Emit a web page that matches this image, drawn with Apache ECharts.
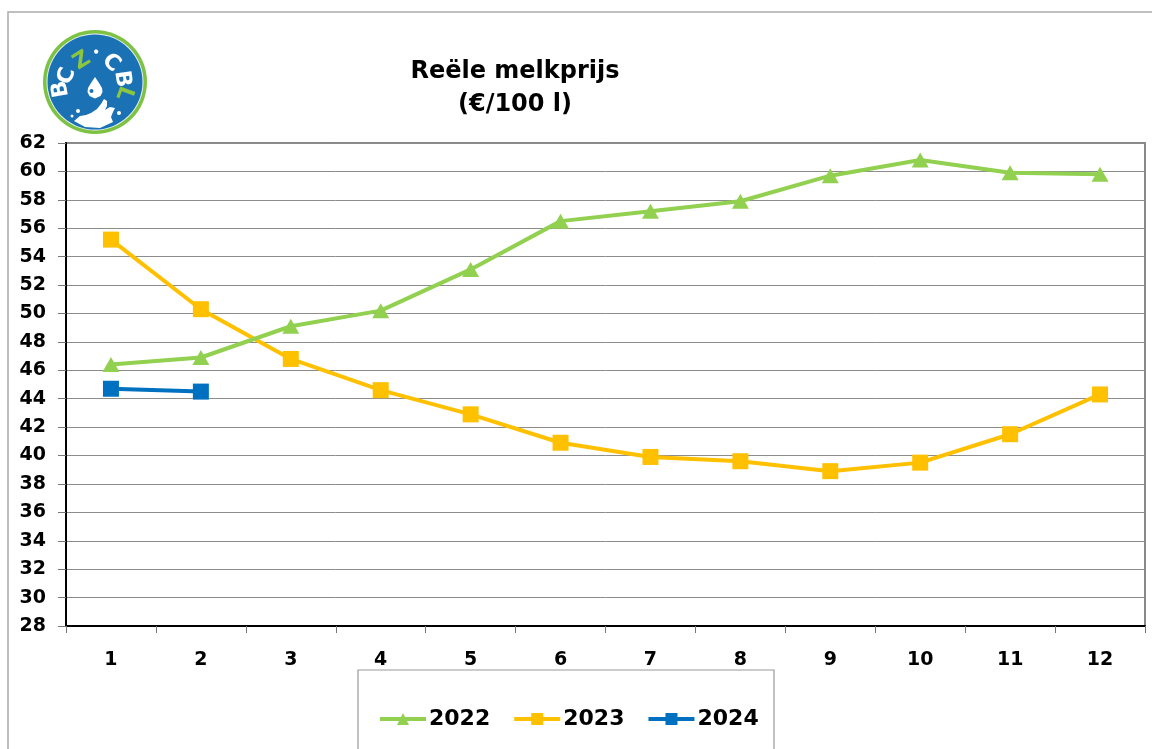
<!DOCTYPE html>
<html>
<head>
<meta charset="utf-8">
<script src="https://cdn.jsdelivr.net/npm/echarts@6/dist/echarts.min.js"></script>
<style>
html,body{margin:0;padding:0;background:#fff;}
#main{width:1152px;height:749px;}
</style>
</head>
<body>
<div id="main"></div>
<script>
const months = ['1','2','3','4','5','6','7','8','9','10','11','12'];
const yTicks = {min: 28, max: 62, interval: 2};
const v2022 = [46.4, 46.9, 49.1, 50.2, 53.1, 56.5, 57.2, 57.9, 59.7, 60.8, 59.9, 59.8];
const v2023 = [55.2, 50.3, 46.8, 44.6, 42.9, 40.9, 39.9, 39.6, 38.9, 39.5, 41.5, 44.3];
const v2024 = [44.7, 44.5];
const titleLines = ['Reële melkprijs', '(€/100 l)'];

const FONT = 'DejaVu Sans';
const chart = echarts.init(document.getElementById('main'), null, {renderer: 'canvas'});

// logo (decorative)
const cx = 95, cy = 82;
const letters = [
  {t: 'B', x: 61, y: 89, a: -100, c: '#ffffff'},
  {t: 'C', x: 67, y: 76, a: -72, c: '#ffffff'},
  {t: 'Z', x: 82, y: 61, a: -32, c: '#8cc63f'},
  {t: '•', x: 96, y: 53, a: 4, c: '#ffffff'},
  {t: 'C', x: 111, y: 63, a: 40, c: '#ffffff'},
  {t: 'B', x: 122, y: 79, a: 82, c: '#ffffff'},
  {t: 'L', x: 124, y: 93, a: 110, c: '#8cc63f'}
];
const letterEls = letters.map(l => {
  const dot = l.t === '•';
  const rad = l.a * Math.PI / 180;
  return {
    type: 'text', x: l.x, y: l.y, rotation: -rad, z: 20,
    style: {text: l.t, fill: l.c, fontFamily: FONT, fontWeight: 'bold', fontSize: dot ? 12 : 22, align: 'center', verticalAlign: 'middle'}
  };
});

const option = {
  backgroundColor: '#fff',
  animation: false,
  title: {
    text: titleLines.join('\n'),
    left: 510, top: 50, textAlign: 'center',
    textStyle: {fontFamily: FONT, fontWeight: 'bold', fontSize: 24, lineHeight: 33, color: '#000'}
  },
  grid: {left: 66, right: 7, top: 143, bottom: 123, show: true, borderColor: '#888', borderWidth: 2, backgroundColor: 'transparent'},
  legend: {
    top: 703, left: 373,
    itemWidth: 46, itemHeight: 15, itemGap: 22,
    lineStyle: {width: 4},
    textStyle: {fontFamily: FONT, fontWeight: 'bold', fontSize: 22, color: '#000', padding: [0, 0, 0, -2]},
    data: ['2022', '2023', '2024']
  },
  xAxis: {
    type: 'category', data: months, boundaryGap: true,
    axisLine: {lineStyle: {color: '#000', width: 2}},
    axisTick: {show: true, length: 7, lineStyle: {color: '#777', width: 1}},
    axisLabel: {fontFamily: FONT, fontWeight: 'bold', fontSize: 19, color: '#000', margin: 25}
  },
  yAxis: {
    type: 'value', min: yTicks.min, max: yTicks.max, interval: yTicks.interval,
    axisLine: {show: true, lineStyle: {color: '#000', width: 2}},
    axisTick: {show: true, length: 8, lineStyle: {color: '#777', width: 1}},
    axisLabel: {fontFamily: FONT, fontWeight: 'bold', fontSize: 19, color: '#000', margin: 20},
    splitLine: {lineStyle: {color: '#8c8c8c', width: 1}}
  },
  series: [
    {name: '2022', type: 'line', data: v2022, symbol: 'triangle', symbolSize: [17, 15],
      lineStyle: {color: '#92D050', width: 4}, itemStyle: {color: '#92D050'}, z: 3},
    {name: '2023', type: 'line', data: v2023, symbol: 'rect', symbolSize: 16,
      lineStyle: {color: '#FFC000', width: 4}, itemStyle: {color: '#FFC000'}, z: 2},
    {name: '2024', type: 'line', data: v2024, symbol: 'rect', symbolSize: 16,
      lineStyle: {color: '#0070C0', width: 4}, itemStyle: {color: '#0070C0'}, z: 4}
  ],
  graphic: [
    {type: 'polyline', z: -1, shape: {points: [[8, 749], [8, 12], [1152, 12]]}, style: {stroke: '#aaa', lineWidth: 1.5, fill: null}},
    {type: 'rect', z: -1, shape: {x: 358, y: 670, width: 416, height: 100}, style: {stroke: '#999', lineWidth: 1.2, fill: '#fff'}},
    {type: 'circle', z: 10, shape: {cx: cx, cy: cy, r: 52}, style: {fill: '#7dc242'}},
    {type: 'circle', z: 11, shape: {cx: cx, cy: cy, r: 48.5}, style: {fill: '#e8f0f7'}},
    {type: 'circle', z: 12, shape: {cx: cx, cy: cy, r: 47.5}, style: {fill: '#1a72b5'}},
    {type: 'polygon', z: 15, shape: {points: [[95, 77], [99, 83], [102, 88], [102.5, 92], [100.5, 96], [95, 98.5], [89.5, 96], [87.5, 92], [88, 88], [91, 83]]}, style: {fill: '#fff'}},
    {type: 'circle', z: 16, shape: {cx: 91.5, cy: 91, r: 2}, style: {fill: '#1a72b5'}},
    {type: 'polygon', z: 15, shape: {points: [[74, 121], [80, 116], [86, 115], [91, 113], [97, 109], [101, 104], [104, 99], [107, 101], [107, 106], [105, 110], [110, 107], [115, 108], [113, 112], [111, 117], [113, 122], [100, 128], [85, 127]]}, style: {fill: '#fff'}},
    {type: 'circle', z: 15, shape: {cx: 78, cy: 111, r: 2}, style: {fill: '#fff'}},
    {type: 'circle', z: 15, shape: {cx: 119, cy: 113, r: 2}, style: {fill: '#fff'}},
    {type: 'circle', z: 15, shape: {cx: 72, cy: 116, r: 1.5}, style: {fill: '#fff'}}
  ].concat(letterEls)
};
chart.setOption(option);
</script>
</body>
</html>
